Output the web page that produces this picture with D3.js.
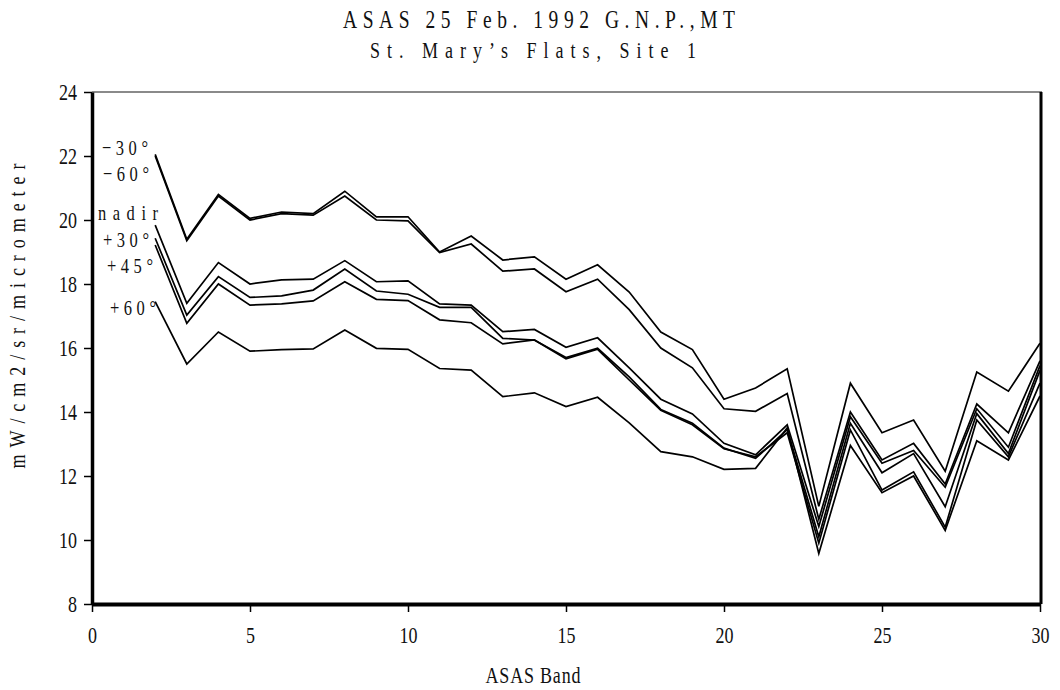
<!DOCTYPE html>
<html>
<head>
<meta charset="utf-8">
<script src="https://cdn.jsdelivr.net/npm/d3@7"></script>
<style>
  body { margin: 0; background: #fff; }
  text { font-family: "Liberation Serif", "DejaVu Serif", serif; fill: #111; }
</style>
</head>
<body>
<script>
// ASAS bands along x
const bands = [2, 3, 4, 5, 6, 7, 8, 9, 10, 11, 12, 13, 14, 15, 16, 17, 18, 19, 20, 21, 22, 23, 24, 25, 26, 27, 28, 29, 30]

// radiance per view angle
const minus30 = [22.05, 19.4, 20.8, 20.05, 20.25, 20.2, 20.9, 20.1, 20.1, 19.0, 19.5, 18.75, 18.85, 18.15, 18.6, 17.75, 16.5, 15.95, 14.4, 14.75, 15.35, 11.05, 14.9, 13.35, 13.75, 12.15, 15.25, 14.65, 16.15]
const minus60 = [22.0, 19.35, 20.75, 20.0, 20.2, 20.15, 20.75, 20.0, 19.97, 18.98, 19.25, 18.4, 18.47, 17.76, 18.15, 17.2, 16.0, 15.38, 14.1, 14.02, 14.58, 10.65, 14.0, 12.5, 13.02, 11.75, 14.25, 13.35, 15.6]
const nadir = [19.84, 17.4, 18.67, 18.0, 18.13, 18.15, 18.73, 18.07, 18.1, 17.38, 17.34, 16.51, 16.58, 16.02, 16.32, 15.38, 14.4, 13.94, 13.02, 12.66, 13.6, 10.42, 13.85, 12.4, 12.8, 11.65, 14.1, 12.9, 15.45]
const plus30 = [19.43, 17.03, 18.23, 17.58, 17.63, 17.81, 18.47, 17.78, 17.68, 17.27, 17.27, 16.3, 16.25, 15.7, 15.99, 15.1, 14.08, 13.65, 12.87, 12.55, 13.45, 10.1, 13.65, 12.1, 12.7, 11.04, 13.95, 12.7, 15.3]
const plus45 = [19.22, 16.77, 18.0, 17.34, 17.38, 17.47, 18.07, 17.52, 17.48, 16.88, 16.79, 16.13, 16.25, 15.66, 15.96, 15.0, 14.05, 13.6, 12.85, 12.6, 13.35, 9.9, 13.44, 11.56, 12.13, 10.4, 13.75, 12.6, 14.9]
const plus60 = [17.45, 15.5, 16.5, 15.9, 15.95, 15.97, 16.56, 15.99, 15.96, 15.36, 15.31, 14.48, 14.6, 14.17, 14.46, 13.66, 12.76, 12.6, 12.21, 12.24, 13.5, 9.58, 12.95, 11.48, 12.0, 10.3, 13.1, 12.5, 14.5]

// series labels and the value they sit beside
const labelNames = ['\u221230\u00b0', '\u221260\u00b0', 'nadir', '+30\u00b0', '+45\u00b0', '+60\u00b0']
const labelValues = [22.28, 21.47, 20.25, 19.42, 18.6, 17.28]

// axis ticks
const xTicks = [0, 5, 10, 15, 20, 25, 30]
const yTicks = [8, 10, 12, 14, 16, 18, 20, 22, 24]

const w = 1060
const h = 690
const pLeft = 92, pRight = 1040, pTop = 92, pBottom = 604
const sx = 0.75 // the printed font is narrow

const svg = d3.select('body')
    .append('svg')
    .attr('width', w)
    .attr('height', h)

const x = d3.scaleLinear().domain([0, 30]).range([pLeft, pRight])
const y = d3.scaleLinear().domain([8, 24]).range([pBottom, pTop])

// narrow, spaced-out text like the original printout
const narrowText = (tf, str, size, len, anchor) => {
    const t = svg.append('text')
        .attr('transform', tf + ` scale(${sx},1)`)
        .attr('text-anchor', anchor || 'middle')
        .style('font-size', size + 'px')
        .text(str)
    if (len) t.attr('textLength', len / sx).attr('lengthAdjust', 'spacing')
    return t
}

// titles
narrowText('translate(539,28)', 'ASAS 25 Feb. 1992 G.N.P.,MT', 26, 392)
narrowText('translate(533,58)', 'St. Mary\u2019s Flats, Site 1', 24, 326)

// frame: thin grey top, heavy black on the other sides
svg.append('line')
    .attr('x1', pLeft).attr('x2', pRight + 2)
    .attr('y1', pTop).attr('y2', pTop)
    .attr('stroke', '#8a8a8a')
    .attr('stroke-width', 2)

svg.append('line')
    .attr('x1', pRight + 1).attr('x2', pRight + 1)
    .attr('y1', pTop).attr('y2', pBottom)
    .attr('stroke', '#000')
    .attr('stroke-width', 3)

// axes
const yAxis = svg.append('g')
    .attr('transform', `translate(${pLeft},0)`)
    .call(d3.axisLeft(y).tickValues(yTicks).tickSize(8).tickSizeOuter(0).tickPadding(12))
yAxis.select('.domain').attr('stroke-width', 3.5)
yAxis.selectAll('.tick line').attr('stroke-width', 1.5)
yAxis.selectAll('.tick text')
    .style('font-size', '24px')
    .attr('fill', '#111')
    .attr('transform', `scale(${sx},1)`)

const xAxis = svg.append('g')
    .attr('transform', `translate(0,${pBottom})`)
    .call(d3.axisBottom(x).tickValues(xTicks).tickSize(8).tickSizeOuter(0).tickPadding(14))
xAxis.select('.domain').attr('stroke-width', 4)
xAxis.selectAll('.tick line').attr('stroke-width', 1.5)
xAxis.selectAll('.tick text')
    .style('font-size', '24px')
    .attr('fill', '#111')
    .attr('transform', `scale(${sx},1)`)

// axis titles
narrowText('translate(533,683)', 'ASAS Band', 24, 95)
narrowText('translate(25,316) rotate(-90)', 'mW/cm2/sr/micrometer', 24, 305)

// lines
const series = [minus30, minus60, nadir, plus30, plus45, plus60]
const line = d3.line()
    .x((d, i) => x(bands[i]))
    .y(d => y(d))

svg.append('g')
    .selectAll('path')
    .data(series)
    .enter()
    .append('path')
    .attr('d', line)
    .attr('fill', 'none')
    .attr('stroke', '#000')
    .attr('stroke-width', 1.7)
    .attr('stroke-linejoin', 'miter')

// series labels at the left
const labelX = [102, 103, 98, 103, 107, 110]
labelNames.forEach((d, i) => {
    narrowText(`translate(${labelX[i]},${y(labelValues[i]) + 8})`, d, 22, d === 'nadir' ? 60 : 46, 'start')
})
</script>
</body>
</html>
